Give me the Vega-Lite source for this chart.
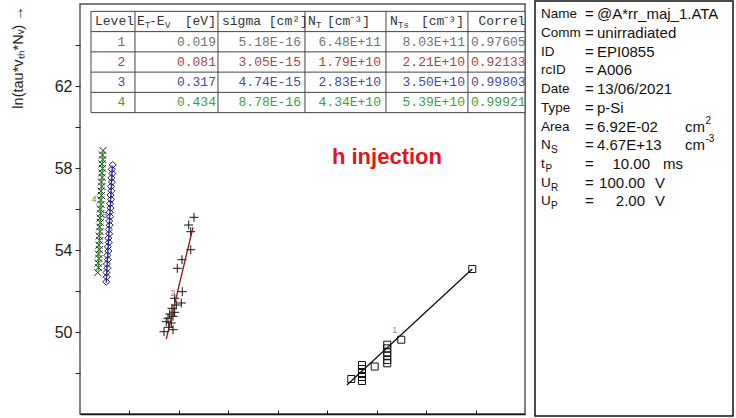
{
  "$schema": "https://vega.github.io/schema/vega-lite/v6.json",
  "background": "white",
  "padding": {"left": 9, "top": 0, "right": 0, "bottom": 0},
  "spacing": 7,
  "datasets": {
    "one": [{}],
    "pts": [
      {"level": 1, "x": 5.486, "y": 47.707},
      {"level": 1, "x": 5.703, "y": 48.39},
      {"level": 1, "x": 5.703, "y": 48.195},
      {"level": 1, "x": 5.703, "y": 48.0},
      {"level": 1, "x": 5.703, "y": 47.805},
      {"level": 1, "x": 5.703, "y": 47.61},
      {"level": 1, "x": 5.96, "y": 48.317},
      {"level": 1, "x": 6.214, "y": 49.38},
      {"level": 1, "x": 6.214, "y": 49.205},
      {"level": 1, "x": 6.214, "y": 49.01},
      {"level": 1, "x": 6.214, "y": 48.84},
      {"level": 1, "x": 6.214, "y": 48.634},
      {"level": 1, "x": 6.214, "y": 48.473},
      {"level": 1, "x": 6.497, "y": 49.624},
      {"level": 1, "x": 7.933, "y": 53.073},
      {"level": 2, "x": 2.305, "y": 55.595},
      {"level": 2, "x": 2.198, "y": 55.22},
      {"level": 2, "x": 2.239, "y": 54.893},
      {"level": 2, "x": 2.239, "y": 54.015},
      {"level": 2, "x": 2.063, "y": 53.527},
      {"level": 2, "x": 1.968, "y": 53.107},
      {"level": 2, "x": 2.069, "y": 51.966},
      {"level": 2, "x": 1.915, "y": 51.644},
      {"level": 2, "x": 2.049, "y": 51.415},
      {"level": 2, "x": 1.947, "y": 51.317},
      {"level": 2, "x": 1.86, "y": 51.156},
      {"level": 2, "x": 1.915, "y": 50.961},
      {"level": 2, "x": 1.814, "y": 50.878},
      {"level": 2, "x": 1.881, "y": 50.766},
      {"level": 2, "x": 1.78, "y": 50.668},
      {"level": 2, "x": 1.745, "y": 50.502},
      {"level": 2, "x": 1.846, "y": 50.439},
      {"level": 2, "x": 1.794, "y": 50.229},
      {"level": 2, "x": 1.881, "y": 50.112},
      {"level": 2, "x": 1.699, "y": 50.015},
      {"level": 3, "x": 0.662, "y": 58.15},
      {"level": 3, "x": 0.644, "y": 57.94},
      {"level": 3, "x": 0.655, "y": 57.73},
      {"level": 3, "x": 0.636, "y": 57.52},
      {"level": 3, "x": 0.646, "y": 57.31},
      {"level": 3, "x": 0.627, "y": 57.1},
      {"level": 3, "x": 0.637, "y": 56.89},
      {"level": 3, "x": 0.618, "y": 56.68},
      {"level": 3, "x": 0.628, "y": 56.47},
      {"level": 3, "x": 0.609, "y": 56.26},
      {"level": 3, "x": 0.619, "y": 56.05},
      {"level": 3, "x": 0.6, "y": 55.84},
      {"level": 3, "x": 0.611, "y": 55.63},
      {"level": 3, "x": 0.59, "y": 55.42},
      {"level": 3, "x": 0.601, "y": 55.21},
      {"level": 3, "x": 0.581, "y": 55.0},
      {"level": 3, "x": 0.591, "y": 54.79},
      {"level": 3, "x": 0.572, "y": 54.58},
      {"level": 3, "x": 0.582, "y": 54.37},
      {"level": 3, "x": 0.563, "y": 54.16},
      {"level": 3, "x": 0.573, "y": 53.95},
      {"level": 3, "x": 0.554, "y": 53.74},
      {"level": 3, "x": 0.564, "y": 53.53},
      {"level": 3, "x": 0.544, "y": 53.32},
      {"level": 3, "x": 0.554, "y": 53.11},
      {"level": 3, "x": 0.535, "y": 52.9},
      {"level": 3, "x": 0.542, "y": 52.69},
      {"level": 3, "x": 0.531, "y": 52.45},
      {"level": 4, "x": 0.466, "y": 58.85},
      {"level": 4, "x": 0.454, "y": 58.63},
      {"level": 4, "x": 0.463, "y": 58.41},
      {"level": 4, "x": 0.447, "y": 58.2},
      {"level": 4, "x": 0.456, "y": 57.98},
      {"level": 4, "x": 0.44, "y": 57.76},
      {"level": 4, "x": 0.449, "y": 57.54},
      {"level": 4, "x": 0.432, "y": 57.32},
      {"level": 4, "x": 0.442, "y": 57.1},
      {"level": 4, "x": 0.425, "y": 56.88},
      {"level": 4, "x": 0.435, "y": 56.66},
      {"level": 4, "x": 0.418, "y": 56.44},
      {"level": 4, "x": 0.428, "y": 56.22},
      {"level": 4, "x": 0.411, "y": 56.0},
      {"level": 4, "x": 0.421, "y": 55.78},
      {"level": 4, "x": 0.403, "y": 55.56},
      {"level": 4, "x": 0.413, "y": 55.34},
      {"level": 4, "x": 0.396, "y": 55.12},
      {"level": 4, "x": 0.406, "y": 54.9},
      {"level": 4, "x": 0.389, "y": 54.68},
      {"level": 4, "x": 0.399, "y": 54.46},
      {"level": 4, "x": 0.381, "y": 54.24},
      {"level": 4, "x": 0.392, "y": 54.02},
      {"level": 4, "x": 0.374, "y": 53.8},
      {"level": 4, "x": 0.385, "y": 53.58},
      {"level": 4, "x": 0.368, "y": 53.36},
      {"level": 4, "x": 0.377, "y": 53.14},
      {"level": 4, "x": 0.36, "y": 52.9}
    ],
    "fits": [
      {"level": 1, "x": 5.398, "y": 47.415},
      {"level": 1, "x": 7.933, "y": 53.073},
      {"level": 2, "x": 1.745, "y": 49.659},
      {"level": 2, "x": 2.285, "y": 55.107},
      {"level": 3, "x": 0.53, "y": 52.4},
      {"level": 3, "x": 0.655, "y": 58.1},
      {"level": 4, "x": 0.368, "y": 53.0},
      {"level": 4, "x": 0.463, "y": 58.8}
    ],
    "lbl": [
      {"level": 1, "t": "1", "x": 6.364, "y": 50.1},
      {"level": 2, "t": "2", "x": 1.881, "y": 51.9},
      {"level": 3, "t": "3", "x": 0.5, "y": 55.7},
      {"level": 4, "t": "4", "x": 0.283, "y": 56.49}
    ],
    "tbl": [
      {"level": 1, "e": "0.019", "sigma": "5.18E-16", "nt": "6.48E+11", "nts": "8.03E+11", "corr": "0.97605"},
      {"level": 2, "e": "0.081", "sigma": "3.05E-15", "nt": "1.79E+10", "nts": "2.21E+10", "corr": "0.92133"},
      {"level": 3, "e": "0.317", "sigma": "4.74E-15", "nt": "2.83E+10", "nts": "3.50E+10", "corr": "0.99803"},
      {"level": 4, "e": "0.434", "sigma": "8.78E-16", "nt": "4.34E+10", "nts": "5.39E+10", "corr": "0.99921"}
    ],
    "info": [
      {"i": 0, "k": "Name", "v": "@A*rr_maj_1.ATA"},
      {"i": 1, "k": "Comm", "v": "unirradiated"},
      {"i": 2, "k": "ID", "v": "EPI0855"},
      {"i": 3, "k": "rcID", "v": "A006"},
      {"i": 4, "k": "Date", "v": "13/06/2021"},
      {"i": 5, "k": "Type", "v": "p-Si"},
      {"i": 6, "k": "Area", "v": "6.92E-02", "unit": "cm", "sup": "2"},
      {"i": 7, "k": "N", "sub": "S", "v": "4.67E+13", "unit": "cm", "sup": "-3"},
      {"i": 8, "k": "t", "sub": "P", "num": "10.00", "unit": "ms"},
      {"i": 9, "k": "U", "sub": "R", "num": "100.00", "unit": "V"},
      {"i": 10, "k": "U", "sub": "P", "num": "2.00", "unit": "V"}
    ]
  },
  "hconcat": [
    {
      "spacing": 1,
      "vconcat": [
        {
          "width": 445,
          "height": 1,
          "view": {"stroke": null},
          "data": {"name": "one"},
          "mark": {"type": "text", "text": "", "fontSize": 0.1},
          "encoding": {}
        },
        {
          "width": 445,
          "height": 410,
          "view": {"stroke": "#555", "strokeWidth": 1.5},
          "resolve": {"scale": {"y": "independent"}, "axis": {"y": "independent"}},
          "layer": [
            {
              "layer": [
                {
                  "data": {"name": "pts"},
                  "transform": [{"filter": "datum.level == 1"}],
                  "mark": {"type": "point", "shape": "square", "size": 49, "filled": false, "stroke": "#111", "strokeWidth": 1, "opacity": 1},
                  "encoding": {
                    "x": {"field": "x", "type": "quantitative", "scale": {"domain": [0, 9], "nice": false, "zero": false},
                      "axis": {"values": [1, 2, 3, 4, 5, 6, 7, 8], "labels": false, "tickSize": -4, "tickColor": "#111", "tickWidth": 1, "domain": true, "domainColor": "#111", "domainWidth": 1.5, "grid": false, "title": null}},
                    "y": {"field": "y", "type": "quantitative", "scale": {"domain": [46, 66], "nice": false, "zero": false},
                      "axis": {"values": [48, 50, 52, 54, 56, 58, 60, 62, 64], "labelExpr": "datum.value % 4 == 2 ? datum.label : ''", "tickSize": 5, "tickColor": "#222", "domain": false, "grid": false, "labelFont": "Liberation Sans", "labelFontSize": 16, "labelColor": "#222", "labelPadding": 3, "title": "ln(tau*vₜₕ*Nᵥ) →", "titleFont": "Liberation Sans", "titleFontSize": 14.5, "titleFontWeight": "normal", "titleColor": "#222", "titleX": -62, "titleY": 53, "titleAngle": 270, "titleAlign": "center", "titleBaseline": "middle"}}
                  }
                },
                {
                  "data": {"name": "pts"},
                  "transform": [{"filter": "datum.level == 2"}],
                  "mark": {"type": "point", "shape": "M-1,0H1M0,-1V1", "size": 81, "filled": false, "stroke": "#111", "strokeWidth": 1, "opacity": 1},
                  "encoding": {"x": {"field": "x", "type": "quantitative"}, "y": {"field": "y", "type": "quantitative"}}
                },
                {
                  "data": {"name": "pts"},
                  "transform": [{"filter": "datum.level == 3"}],
                  "mark": {"type": "point", "shape": "diamond", "size": 49, "filled": false, "stroke": "#1c1c40", "strokeWidth": 1, "opacity": 1},
                  "encoding": {"x": {"field": "x", "type": "quantitative"}, "y": {"field": "y", "type": "quantitative"}}
                },
                {
                  "data": {"name": "pts"},
                  "transform": [{"filter": "datum.level == 4"}],
                  "mark": {"type": "point", "shape": "M-1,-1L1,1M-1,1L1,-1", "size": 49, "filled": false, "stroke": "#1a2a1a", "strokeWidth": 1, "opacity": 1},
                  "encoding": {"x": {"field": "x", "type": "quantitative"}, "y": {"field": "y", "type": "quantitative"}}
                },
                {
                  "data": {"name": "fits"},
                  "mark": {"type": "line", "strokeWidth": 1.3},
                  "encoding": {
                    "x": {"field": "x", "type": "quantitative"},
                    "y": {"field": "y", "type": "quantitative"},
                    "stroke": {"field": "level", "type": "nominal", "scale": {"domain": [1, 2, 3, 4], "range": ["#111111", "#8b1414", "#2424b4", "#1f9a1f"]}, "legend": null}
                  }
                },
                {
                  "data": {"name": "lbl"},
                  "mark": {"type": "text", "font": "Liberation Sans", "fontSize": 9, "align": "center", "baseline": "middle"},
                  "encoding": {
                    "x": {"field": "x", "type": "quantitative"},
                    "y": {"field": "y", "type": "quantitative"},
                    "text": {"field": "t"},
                    "color": {"field": "level", "type": "nominal", "scale": {"domain": [1, 2, 3, 4], "range": ["#8a8a8a", "#c07070", "#4848b0", "#3e9e3e"]}, "legend": null}
                  }
                },
                {
                  "data": {"name": "one"},
                  "mark": {"type": "text", "text": "h injection", "font": "Liberation Sans", "fontSize": 22, "fontWeight": "bold", "fill": "#e3141b", "align": "center", "baseline": "middle"},
                  "encoding": {"x": {"datum": 6.208}, "y": {"datum": 58.54}}
                }
              ]
            },
            {
              "layer": [
                {
                  "data": {"name": "one"},
                  "mark": {"type": "rect", "fill": "white", "stroke": "#444", "strokeWidth": 1},
                  "encoding": {
                    "x": {"datum": 0.2224},
                    "x2": {"datum": 9},
                    "y": {"datum": -0.5, "scale": {"domain": [-0.864, 19.383], "reverse": true, "nice": false, "zero": false}, "axis": null},
                    "y2": {"datum": 4.5}
                  }
                },
                {
                  "data": {"name": "tbl"},
                  "mark": {"type": "rule", "stroke": "#444", "strokeWidth": 1, "yOffset": -10.125},
                  "encoding": {"x": {"datum": 0.2224}, "x2": {"datum": 9}, "y": {"field": "level", "type": "quantitative", "axis": null}}
                },
                {"data": {"name": "one"}, "mark": {"type": "rule", "stroke": "#444", "strokeWidth": 1}, "encoding": {"x": {"datum": 1.112}, "y": {"datum": -0.5, "axis": null}, "y2": {"datum": 4.5}}},
                {"data": {"name": "one"}, "mark": {"type": "rule", "stroke": "#444", "strokeWidth": 1}, "encoding": {"x": {"datum": 2.791}, "y": {"datum": -0.5, "axis": null}, "y2": {"datum": 4.5}}},
                {"data": {"name": "one"}, "mark": {"type": "rule", "stroke": "#444", "strokeWidth": 1}, "encoding": {"x": {"datum": 4.55}, "y": {"datum": -0.5, "axis": null}, "y2": {"datum": 4.5}}},
                {"data": {"name": "one"}, "mark": {"type": "rule", "stroke": "#444", "strokeWidth": 1}, "encoding": {"x": {"datum": 6.188}, "y": {"datum": -0.5, "axis": null}, "y2": {"datum": 4.5}}},
                {"data": {"name": "one"}, "mark": {"type": "rule", "stroke": "#444", "strokeWidth": 1}, "encoding": {"x": {"datum": 7.846}, "y": {"datum": -0.5, "axis": null}, "y2": {"datum": 4.5}}},
                {"data": {"name": "one"}, "mark": {"type": "text", "text": "Level", "font": "Liberation Mono", "fontSize": 13, "fill": "#333", "align": "left", "baseline": "middle"}, "encoding": {"x": {"datum": 0.303}, "y": {"datum": 0, "axis": null}}},
                {"data": {"name": "one"}, "mark": {"type": "text", "text": "E", "font": "Liberation Mono", "fontSize": 13, "fill": "#333", "align": "left", "baseline": "middle"}, "encoding": {"x": {"datum": 1.153}, "y": {"datum": 0, "axis": null}}},
                {"data": {"name": "one"}, "mark": {"type": "text", "text": "T", "font": "Liberation Mono", "fontSize": 9, "fill": "#333", "align": "left", "baseline": "middle", "dy": 4}, "encoding": {"x": {"datum": 1.314}, "y": {"datum": 0, "axis": null}}},
                {"data": {"name": "one"}, "mark": {"type": "text", "text": "-E", "font": "Liberation Mono", "fontSize": 13, "fill": "#333", "align": "left", "baseline": "middle"}, "encoding": {"x": {"datum": 1.395}, "y": {"datum": 0, "axis": null}}},
                {"data": {"name": "one"}, "mark": {"type": "text", "text": "V", "font": "Liberation Mono", "fontSize": 9, "fill": "#333", "align": "left", "baseline": "middle", "dy": 4}, "encoding": {"x": {"datum": 1.72}, "y": {"datum": 0, "axis": null}}},
                {"data": {"name": "one"}, "mark": {"type": "text", "text": "[eV]", "font": "Liberation Mono", "fontSize": 13, "fill": "#333", "align": "right", "baseline": "middle"}, "encoding": {"x": {"datum": 2.75}, "y": {"datum": 0, "axis": null}}},
                {"data": {"name": "one"}, "mark": {"type": "text", "text": "sigma [cm²]", "font": "Liberation Mono", "fontSize": 13, "fill": "#333", "align": "left", "baseline": "middle"}, "encoding": {"x": {"datum": 2.872}, "y": {"datum": 0, "axis": null}}},
                {"data": {"name": "one"}, "mark": {"type": "text", "text": "N", "font": "Liberation Mono", "fontSize": 13, "fill": "#333", "align": "left", "baseline": "middle"}, "encoding": {"x": {"datum": 4.611}, "y": {"datum": 0, "axis": null}}},
                {"data": {"name": "one"}, "mark": {"type": "text", "text": "T", "font": "Liberation Mono", "fontSize": 9, "fill": "#333", "align": "left", "baseline": "middle", "dy": 4}, "encoding": {"x": {"datum": 4.772}, "y": {"datum": 0, "axis": null}}},
                {"data": {"name": "one"}, "mark": {"type": "text", "text": "[cm⁻³]", "font": "Liberation Mono", "fontSize": 13, "fill": "#333", "align": "left", "baseline": "middle"}, "encoding": {"x": {"datum": 4.995}, "y": {"datum": 0, "axis": null}}},
                {"data": {"name": "one"}, "mark": {"type": "text", "text": "N", "font": "Liberation Mono", "fontSize": 13, "fill": "#333", "align": "left", "baseline": "middle"}, "encoding": {"x": {"datum": 6.269}, "y": {"datum": 0, "axis": null}}},
                {"data": {"name": "one"}, "mark": {"type": "text", "text": "Ts", "font": "Liberation Mono", "fontSize": 9, "fill": "#333", "align": "left", "baseline": "middle", "dy": 4}, "encoding": {"x": {"datum": 6.431}, "y": {"datum": 0, "axis": null}}},
                {"data": {"name": "one"}, "mark": {"type": "text", "text": "[cm⁻³]", "font": "Liberation Mono", "fontSize": 13, "fill": "#333", "align": "left", "baseline": "middle"}, "encoding": {"x": {"datum": 6.896}, "y": {"datum": 0, "axis": null}}},
                {"data": {"name": "one"}, "mark": {"type": "text", "text": "Correlation", "font": "Liberation Mono", "fontSize": 13, "fill": "#333", "align": "left", "baseline": "middle", "clip": true}, "encoding": {"x": {"datum": 8.06}, "y": {"datum": 0, "axis": null}}},
                {
                  "data": {"name": "tbl"},
                  "mark": {"type": "text", "font": "Liberation Mono", "fontSize": 13, "align": "center", "baseline": "middle"},
                  "encoding": {"x": {"datum": 0.839}, "y": {"field": "level", "type": "quantitative", "axis": null}, "text": {"field": "level"}, "fill": {"field": "level", "type": "nominal", "scale": {"domain": [1, 2, 3, 4], "range": ["#737373", "#a84444", "#4848a8", "#3e9e3e"]}, "legend": null}}
                },
                {
                  "data": {"name": "tbl"},
                  "mark": {"type": "text", "font": "Liberation Mono", "fontSize": 13, "align": "right", "baseline": "middle"},
                  "encoding": {"x": {"datum": 2.75}, "y": {"field": "level", "type": "quantitative", "axis": null}, "text": {"field": "e"}, "fill": {"field": "level", "type": "nominal", "legend": null}}
                },
                {
                  "data": {"name": "tbl"},
                  "mark": {"type": "text", "font": "Liberation Mono", "fontSize": 13, "align": "right", "baseline": "middle"},
                  "encoding": {"x": {"datum": 4.469}, "y": {"field": "level", "type": "quantitative", "axis": null}, "text": {"field": "sigma"}, "fill": {"field": "level", "type": "nominal", "legend": null}}
                },
                {
                  "data": {"name": "tbl"},
                  "mark": {"type": "text", "font": "Liberation Mono", "fontSize": 13, "align": "right", "baseline": "middle"},
                  "encoding": {"x": {"datum": 6.087}, "y": {"field": "level", "type": "quantitative", "axis": null}, "text": {"field": "nt"}, "fill": {"field": "level", "type": "nominal", "legend": null}}
                },
                {
                  "data": {"name": "tbl"},
                  "mark": {"type": "text", "font": "Liberation Mono", "fontSize": 13, "align": "right", "baseline": "middle"},
                  "encoding": {"x": {"datum": 7.786}, "y": {"field": "level", "type": "quantitative", "axis": null}, "text": {"field": "nts"}, "fill": {"field": "level", "type": "nominal", "legend": null}}
                },
                {
                  "data": {"name": "tbl"},
                  "mark": {"type": "text", "font": "Liberation Mono", "fontSize": 13, "align": "left", "baseline": "middle", "clip": true},
                  "encoding": {"x": {"datum": 7.907}, "y": {"field": "level", "type": "quantitative", "axis": null}, "text": {"field": "corr"}, "fill": {"field": "level", "type": "nominal", "legend": null}}
                }
              ]
            }
          ]
        }
      ]
    },
    {
      "width": 198,
      "height": 415,
      "view": {"stroke": "#111", "strokeWidth": 1.5},
      "data": {"name": "info"},
      "layer": [
        {
          "mark": {"type": "text", "font": "Liberation Sans", "fontSize": 13.5, "fill": "#111", "align": "left", "baseline": "middle"},
          "encoding": {
            "x": {"datum": 6, "scale": {"domain": [0, 198], "nice": false, "zero": false}, "axis": null},
            "y": {"field": "i", "type": "quantitative", "scale": {"domain": [-0.711, 21.48], "reverse": true, "nice": false, "zero": false}, "axis": null},
            "text": {"field": "k"}
          }
        },
        {
          "mark": {"type": "text", "text": "=", "font": "Liberation Sans", "fontSize": 15, "fill": "#111", "align": "left", "baseline": "middle"},
          "encoding": {"x": {"datum": 50}, "y": {"field": "i", "type": "quantitative"}}
        },
        {
          "transform": [{"filter": "datum.v"}],
          "mark": {"type": "text", "font": "Liberation Sans", "fontSize": 15, "fill": "#111", "align": "left", "baseline": "middle"},
          "encoding": {"x": {"datum": 62}, "y": {"field": "i", "type": "quantitative"}, "text": {"field": "v"}}
        },
        {
          "transform": [{"filter": "datum.unit == 'ms'"}],
          "mark": {"type": "text", "font": "Liberation Sans", "fontSize": 15, "fill": "#111", "align": "right", "baseline": "middle"},
          "encoding": {"x": {"datum": 115}, "y": {"field": "i", "type": "quantitative"}, "text": {"field": "num"}}
        },
        {
          "transform": [{"filter": "datum.unit == 'V'"}],
          "mark": {"type": "text", "font": "Liberation Sans", "fontSize": 15, "fill": "#111", "align": "right", "baseline": "middle"},
          "encoding": {"x": {"datum": 110}, "y": {"field": "i", "type": "quantitative"}, "text": {"field": "num"}}
        },
        {
          "transform": [{"filter": "datum.unit == 'cm'"}],
          "mark": {"type": "text", "font": "Liberation Sans", "fontSize": 15, "fill": "#111", "align": "left", "baseline": "middle"},
          "encoding": {"x": {"datum": 150}, "y": {"field": "i", "type": "quantitative"}, "text": {"field": "unit"}}
        },
        {
          "transform": [{"filter": "datum.unit == 'ms'"}],
          "mark": {"type": "text", "font": "Liberation Sans", "fontSize": 15, "fill": "#111", "align": "left", "baseline": "middle"},
          "encoding": {"x": {"datum": 128}, "y": {"field": "i", "type": "quantitative"}, "text": {"field": "unit"}}
        },
        {
          "transform": [{"filter": "datum.unit == 'V'"}],
          "mark": {"type": "text", "font": "Liberation Sans", "fontSize": 15, "fill": "#111", "align": "left", "baseline": "middle"},
          "encoding": {"x": {"datum": 120}, "y": {"field": "i", "type": "quantitative"}, "text": {"field": "unit"}}
        },
        {
          "transform": [{"filter": "datum.sup"}],
          "mark": {"type": "text", "font": "Liberation Sans", "fontSize": 10, "fill": "#111", "align": "left", "baseline": "middle", "dx": 20.5, "dy": -6},
          "encoding": {"x": {"datum": 150}, "y": {"field": "i", "type": "quantitative"}, "text": {"field": "sup"}}
        },
        {
          "transform": [{"filter": "datum.sub && datum.k != 't'"}],
          "mark": {"type": "text", "font": "Liberation Sans", "fontSize": 10, "fill": "#111", "align": "left", "baseline": "middle", "dx": 10, "dy": 5},
          "encoding": {"x": {"datum": 6}, "y": {"field": "i", "type": "quantitative"}, "text": {"field": "sub"}}
        },
        {
          "transform": [{"filter": "datum.k == 't'"}],
          "mark": {"type": "text", "font": "Liberation Sans", "fontSize": 10, "fill": "#111", "align": "left", "baseline": "middle", "dx": 4.5, "dy": 5},
          "encoding": {"x": {"datum": 6}, "y": {"field": "i", "type": "quantitative"}, "text": {"field": "sub"}}
        }
      ]
    }
  ]
}
